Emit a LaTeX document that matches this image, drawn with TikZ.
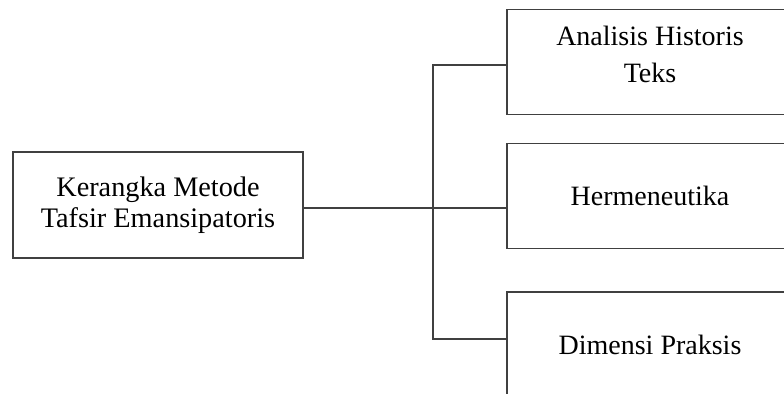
\documentclass[tikz,border=0pt]{standalone}
\usepackage{fontspec}
\setmainfont{Liberation Serif}
\usetikzlibrary{positioning}
\tikzset{kotak/.style={draw=black!75, line width=1.4pt, rectangle, align=center,
         inner sep=0pt, minimum width=214.5pt, minimum height=78.75pt,
         font=\fontsize{21}{27.75}\selectfont},
         garis/.style={draw=black!75, line width=1.4pt}}

\begin{document}
\begin{tikzpicture}[x=0.75pt,y=-0.75pt]
	\useasboundingbox (0,0) rectangle (784,393);
	\clip (0,0) rectangle (784,393);
	\node[kotak, minimum width=217.5pt, minimum height=79.5pt,
	  font=\fontsize{21.2}{23.3}\selectfont] (kerangka) at (158,205)
	  {Kerangka Metode\\Tafsir Emansipatoris};
	\node[kotak, text depth=11pt] (analisis) at (650,62) {Analisis Historis\\Teks};
	\node[kotak] (hermeneutika) at (650,196) {Hermeneutika};
	\node[kotak] (dimensi) at (650,344.5) {Dimensi Praksis};
	\coordinate (cabang) at (433,208);
	\coordinate (atas) at (433,65);
	\coordinate (bawah) at (433,339);
	\draw[garis] (kerangka.east |- cabang) -- (hermeneutika.west |- cabang);
	\draw[garis] (analisis.west |- atas) -- (atas) -- (bawah)
	  -- (dimensi.west |- bawah);
\end{tikzpicture}
\end{document}
